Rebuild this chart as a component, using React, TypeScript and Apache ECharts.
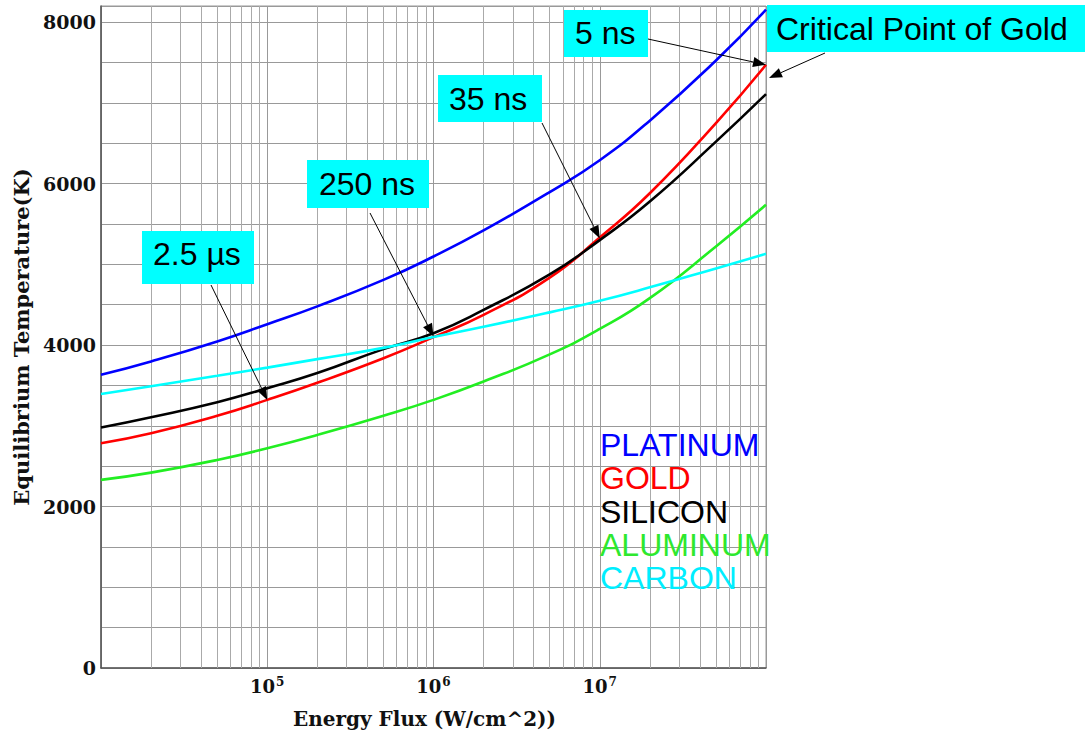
import React, { useEffect, useRef } from "react";
import * as echarts from "echarts";

// Energy flux (W/cm^2) sample points
const fluxValues = [1e4, 2e4, 5e4, 1e5, 2e5, 5e5, 1e6, 2e6, 5e6, 1e7, 2e7, 5e7, 1e8];
// Equilibrium temperature (K)
const platinum = [3631, 3797, 4045, 4258, 4479, 4807, 5097, 5420, 5895, 6290, 6780, 7525, 8154];
const gold = [2784, 2908, 3125, 3321, 3533, 3837, 4098, 4374, 4835, 5333, 5880, 6750, 7472];
const silicon = [2978, 3106, 3292, 3466, 3653, 3950, 4147, 4436, 4875, 5300, 5778, 6520, 7109];
const aluminum = [2330, 2420, 2577, 2722, 2886, 3124, 3321, 3548, 3885, 4200, 4581, 5221, 5737];
const carbon = [3395, 3491, 3620, 3721, 3826, 3965, 4100, 4226, 4405, 4549, 4715, 4950, 5130];

const yTickLabels = [0, 2000, 4000, 6000, 8000];
const minorDecades = [1e4, 1e5, 1e6, 1e7];
const minorMultipliers = [2, 3, 4, 5, 6, 7, 8, 9];

const legendNames = ["PLATINUM", "GOLD", "SILICON", "ALUMINUM", "CARBON"];
const legendColors = ["#0000ff", "#ff0000", "#000000", "#2ee82e", "#00eeff"];

// annotations: label, point on curve [flux, temperature]
const annotations = [
  { label: "2.5 \u00b5s", at: [1e5, 3321] },
  { label: "250 ns", at: [1e6, 4105] },
  { label: "35 ns", at: [1e7, 5320] },
  { label: "5 ns", at: [1e8, 7472] },
];
const criticalLabel = "Critical Point of Gold";

const SERIF = "'DejaVu Serif', serif";
const SANS = "'Liberation Sans', Arial, sans-serif";
const LABEL_SIZE = 32;

function arrow(x1: number, y1: number, x2: number, y2: number) {
  const dx = x2 - x1;
  const dy = y2 - y1;
  const len = Math.sqrt(dx * dx + dy * dy);
  const ux = dx / len;
  const uy = dy / len;
  const L = 13;
  const W = 5;
  const bx = x2 - ux * L;
  const by = y2 - uy * L;
  return [
    {
      type: "line",
      shape: { x1, y1, x2: bx, y2: by },
      style: { stroke: "#000", lineWidth: 1 },
      z: 10,
      silent: true,
    },
    {
      type: "polygon",
      shape: {
        points: [
          [x2, y2],
          [bx - uy * W, by + ux * W],
          [bx + uy * W, by - ux * W],
        ],
      },
      style: { fill: "#000" },
      z: 10,
      silent: true,
    },
  ];
}

function box(x: number, y: number, w: number, h: number, tx: number, ty: number, text: string) {
  return [
    {
      type: "rect",
      shape: { x, y, width: w, height: h },
      style: { fill: "#00ffff" },
      z: 9,
      silent: true,
    },
    {
      type: "text",
      x: tx,
      y: ty,
      style: {
        text,
        fill: "#000",
        fontSize: LABEL_SIZE,
        fontFamily: SANS,
        align: "left",
        verticalAlign: "middle",
      },
      z: 11,
      silent: true,
    },
  ];
}

export default function App() {
  const ref = useRef<HTMLDivElement>(null);
  useEffect(() => {
    document.body.style.margin = "0";
    const chart = echarts.init(ref.current!, null, { renderer: "svg" });

    const minorLines: number[] = [];
    minorDecades.forEach((d) => minorMultipliers.forEach((m) => minorLines.push(m * d)));

    const mk = (name: string, data: number[], color: string) => ({
      name,
      type: "line",
      data: fluxValues.map((f, i) => [f, data[i]]),
      smooth: 0.5,
      showSymbol: false,
      symbol: "none",
      lineStyle: { color, width: 2.6 },
      z: 5,
      silent: true,
    });

    chart.setOption({
      animation: false,
      backgroundColor: "#ffffff",
      grid: {
        left: 101,
        top: 6,
        right: 319,
        bottom: 69,
        show: true,
        borderColor: "#999",
        borderWidth: 1,
      },
      xAxis: {
        type: "log",
        logBase: 10,
        min: 1e4,
        max: 1e8,
        name: "Energy Flux (W/cm^2))",
        nameLocation: "middle",
        nameGap: 41,
        nameTextStyle: {
          fontFamily: SERIF,
          fontWeight: "bold",
          fontSize: 20,
          color: "#111",
          padding: [0, 18, 0, 0],
        },
        axisLine: { show: true, lineStyle: { color: "#555", width: 1.5 } },
        axisTick: { show: false },
        splitLine: { show: true, lineStyle: { color: "#999", width: 1 } },
        axisLabel: {
          showMinLabel: false,
          showMaxLabel: false,
          margin: 8,
          formatter: (v: number) => `{b|10}{s|${Math.round(Math.log10(v))}}`,
          rich: {
            b: { fontFamily: SERIF, fontWeight: "bold", fontSize: 18, color: "#111" },
            s: {
              fontFamily: SERIF,
              fontWeight: "bold",
              fontSize: 12,
              color: "#111",
              verticalAlign: "top",
              padding: [0, 0, 9, 1],
            },
          },
        },
      },
      yAxis: {
        type: "value",
        min: 0,
        max: 8200,
        interval: 500,
        name: "Equilibrium Temperature(K)",
        nameLocation: "middle",
        nameRotate: 90,
        nameGap: 68,
        nameTextStyle: {
          fontFamily: SERIF,
          fontWeight: "bold",
          fontSize: 21,
          color: "#111",
        },
        axisLine: { show: true, lineStyle: { color: "#555", width: 1.5 } },
        axisTick: { show: false },
        splitLine: { show: true, lineStyle: { color: "#999", width: 1 } },
        axisLabel: {
          margin: 5,
          fontFamily: SERIF,
          fontWeight: "bold",
          fontSize: 19,
          color: "#111",
          formatter: (v: number) => (yTickLabels.indexOf(v) >= 0 ? String(v) : ""),
        },
      },
      series: [
        {
          name: "minor",
          type: "line",
          data: [],
          z: 1,
          silent: true,
          markLine: {
            silent: true,
            symbol: ["none", "none"],
            label: { show: false },
            emphasis: { disabled: true },
            lineStyle: { color: "#aaa", width: 1, type: "solid" },
            data: minorLines.map((v) => ({ xAxis: v })),
          },
        },
        mk("PLATINUM", platinum, "#0000ff"),
        mk("GOLD", gold, "#ff0000"),
        mk("SILICON", silicon, "#000000"),
        mk("ALUMINUM", aluminum, "#22ee22"),
        mk("CARBON", carbon, "#00ffff"),
      ],
    });

    const px = (p: number[]) => chart.convertToPixel({ gridIndex: 0 }, p) as number[];
    const graphics: any[] = [];

    // legend texts
    legendNames.forEach((n, i) => {
      graphics.push({
        type: "text",
        x: 600,
        y: 445 + i * 33.3,
        style: {
          text: n,
          fill: legendColors[i],
          fontSize: LABEL_SIZE,
          fontFamily: SANS,
          align: "left",
          verticalAlign: "middle",
        },
        z: 11,
        silent: true,
      });
    });

    // annotation boxes
    const boxes = [
      { r: [142, 231, 112, 53], t: [153, 254], from: [211, 285] },
      { r: [307, 160, 122, 48], t: [319, 184], from: [370, 213] },
      { r: [438, 75, 104, 47], t: [449, 99], from: [542, 123] },
      { r: [564, 10, 84, 47], t: [575, 33], from: [648, 39] },
    ];
    boxes.forEach((b, i) => {
      const a = annotations[i];
      graphics.push(...box(b.r[0], b.r[1], b.r[2], b.r[3], b.t[0], b.t[1], a.label));
      const tip = px(a.at);
      graphics.push(...arrow(b.from[0], b.from[1], tip[0], tip[1]));
    });
    graphics.push(...box(767, 5, 330, 47, 776, 29, criticalLabel));
    graphics.push(...arrow(825, 53, 769, 78));

    chart.setOption({ graphic: graphics });

    return () => chart.dispose();
  }, []);
  return <div ref={ref} style={{ width: 1085, height: 737 }} />;
}
